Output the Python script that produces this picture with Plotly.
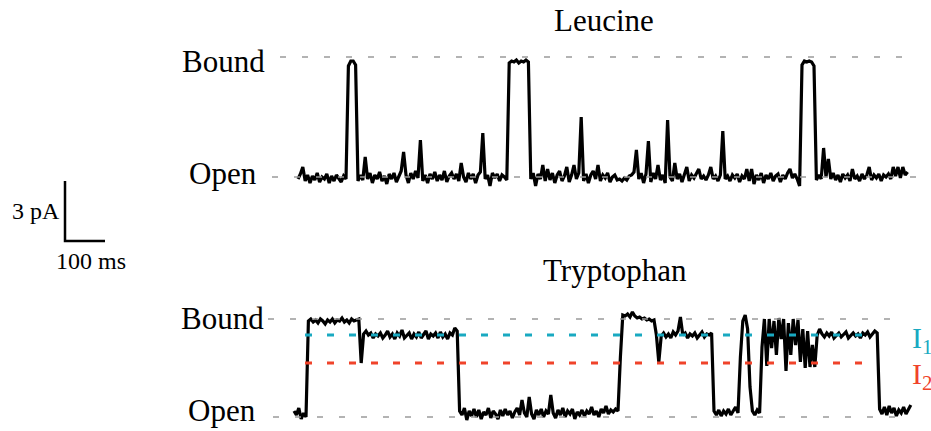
import plotly.graph_objects as go

# ---------------- data ----------------
DT_MS = 6.0

LEU_T0 = 0.0
LEUCINE_PA = [
    -0.1, 0.15, 0.5, -0.2, 0.1, -0.3, 0.05, -0.15, 0.2, -0.25, 0.0, -0.1, 0.15, -0.3, 0.05,
    -0.2, 0.1, -0.05, -0.25, 0.05, -0.1, 5.55, 5.8, 5.8, 5.6, -0.2, 0.1, -0.15, 1.0, -0.1,
    0.2, -0.3, 0.1, -0.1, 0.25, -0.2, 0.05, -0.35, 0.15, -0.1, 0.2, -0.25, 0.0, 0.3, 1.25,
    0.1, -0.3, 0.2, -0.1, 0.3, -0.05, 1.85, -0.2, 0.1, -0.3, 0.15, -0.1, 0.25, -0.2, 0.1,
    -0.15, 0.3, -0.25, 0.05, 0.2, -0.1, 0.15, -0.2, 0.7, 0.0, -0.25, 0.2, -0.1, 0.15, -0.3,
    0.1, 0.25, 2.2, -0.1, 0.1, -0.45, 0.2, -0.05, 0.15, -0.2, 0.1, 0.0, -0.15, 5.7, 5.8,
    5.75, 5.85, 5.7, 5.8, 5.75, 5.85, 5.75, -0.1, 0.2, -0.45, 0.15, -0.1, 0.6, -0.2, 0.4,
    -0.15, 0.2, -0.3, 0.1, 0.3, -0.2, 0.05, 0.5, -0.25, 0.1, 0.6, -0.1, 0.2, 3.0, -0.2,
    0.15, -0.3, 0.1, 0.3, -0.1, 0.6, -0.2, 0.1, -0.05, 0.2, -0.25, 0.0, 0.1, -0.15, -0.1,
    -0.2, -0.05, -0.15, 0.05, 0.1, 0.25, 1.35, -0.1, 0.2, -0.3, 0.15, 1.8, -0.25, 0.2, -0.1,
    0.6, -0.15, 0.1, -0.3, 2.85, 0.0, -0.2, 0.7, -0.1, 0.15, -0.25, 0.1, 0.5, -0.2, 0.1,
    -0.05, 0.15, 0.4, -0.1, 0.05, -0.15, 0.1, 0.5, -0.1, 0.05, -0.2, 0.1, 2.3, -0.1, 0.05,
    -0.2, 0.1, -0.05, 0.15, -0.25, 0.05, -0.1, 0.4, -0.2, 0.4, -0.35, 0.1, -0.15, 0.2, -0.3,
    0.1, -0.1, 0.2, -0.2, 0.05, 0.15, -0.25, 0.1, -0.1, 0.2, 0.4, -0.05, 0.15, -0.1, -0.45,
    5.6, 5.8, 5.75, 5.8, 5.75, 5.55, -0.15, 0.1, -0.1, 1.45, 0.0, 0.9, -0.1, 0.2, -0.15,
    0.1, -0.25, 0.15, -0.05, 0.1, -0.2, 0.4, -0.1, 0.05, -0.2, 0.15, -0.1, 0.1, 0.5, -0.15,
    0.1, -0.05, 0.15, -0.2, 0.1, 0.0, 0.15, -0.1, 0.5, 0.05, 0.5, -0.05, 0.5, 0.1, 0.25,
]

TRP_T0 = -10.0
TRYPTOPHAN_PA = [
    0.3, 0.1, 0.45, -0.1, 0.2, 0.0, 4.8, 4.9, 4.75, 4.85, 4.7, 4.9, 4.8, 4.65, 4.85,
    4.75, 4.9, 4.7, 4.85, 4.8, 4.95, 4.75, 4.85, 4.7, 4.9, 4.8, 4.85, 4.9, 2.7, 4.15,
    4.3, 4.1, 4.2, 3.95, 4.15, 4.05, 4.2, 3.95, 4.1, 4.3, 4.0, 4.15, 3.9, 4.2, 4.05,
    4.35, 3.95, 4.1, 4.2, 3.9, 4.15, 4.0, 4.25, 3.95, 4.1, 4.3, 3.9, 4.15, 4.05, 4.2,
    3.95, 4.25, 4.0, 4.15, 3.9, 4.2, 4.1, 4.45, 4.3, 0.3, 0.1, 0.45, -0.15, 0.3, 0.05,
    0.4, 0.0, 0.35, -0.1, 0.25, 0.1, 0.45, -0.05, 0.3, 0.15, -0.1, 0.35, 0.05, 0.4, 0.1,
    0.3, -0.05, 0.25, 0.45, 0.1, 0.85, 0.2, 0.0, 1.0, 0.15, -0.1, 0.35, 0.1, 0.4, 0.0,
    0.3, 0.15, 1.1, 0.2, -0.05, 0.35, 0.1, 0.45, 0.0, 0.3, 0.15, 0.4, -0.1, 0.25, 0.1,
    0.35, 0.05, 0.3, 0.15, 0.5, 0.1, 0.3, 0.0, 0.4, 0.2, 0.55, 0.15, 0.35, 0.25, 0.4,
    0.3, 3.0, 5.1, 5.05, 5.15, 5.0, 5.25, 5.05, 4.95, 5.0, 4.9, 4.95, 4.85, 4.9, 4.8,
    4.85, 4.1, 2.75, 4.05, 4.2, 4.0, 4.15, 3.95, 4.25, 4.1, 4.3, 5.0, 4.1, 4.2, 3.95,
    4.15, 4.05, 4.2, 3.95, 4.1, 4.25, 4.0, 4.15, 4.1, 4.2, 0.3, 0.1, 0.35, 0.05, 0.3,
    0.15, 0.4, 0.1, 0.3, 0.5, 0.2, 3.0, 4.8, 5.1, 4.4, 1.5, 0.3, 0.1, 0.35, 0.2,
    3.5, 4.9, 2.55, 4.9, 3.45, 4.8, 3.1, 4.95, 3.9, 4.9, 2.3, 4.7, 3.1, 4.9, 3.6,
    4.85, 2.75, 4.4, 2.45, 4.3, 2.5, 3.6, 2.5, 4.1, 4.4, 4.15, 4.0, 4.2, 4.05, 4.25,
    3.95, 4.1, 4.2, 4.0, 4.15, 4.25, 3.95, 4.1, 4.2, 4.05, 4.15, 3.95, 4.2, 4.1, 4.25,
    4.0, 4.15, 4.3, 4.2, 0.4, 0.15, 0.5, 0.1, 0.55, 0.2, 0.45, 0.05, 0.35, 0.2, 0.5,
    0.15, 0.4, 0.6,
]

LEU_LEVELS = {"Bound": 6.0, "Open": 0.0}
TRP_LEVELS = {"Bound": 4.9, "Open": 0.0}
TRP_SUBLEVELS = {"I<sub>1</sub>": 4.1, "I<sub>2</sub>": 2.7}

PANEL_TITLES = ["Leucine", "Tryptophan"]
SCALE_PA = 3
SCALE_MS = 100

# ---------------- styling / layout ----------------
FONT = "Times New Roman, Liberation Serif, serif"
W, H = 931, 431
PX_PER_MS = 0.4
PX_PER_PA = 20.0
X0_PX = 298          # pixel of t = 0
TOP_OPEN_PX = 177    # pixel of 0 pA in the top panel
BOT_OPEN_PX = 417    # pixel of 0 pA in the bottom panel

x_range = [-X0_PX / PX_PER_MS, (W - X0_PX) / PX_PER_MS]
y_top_range = [(TOP_OPEN_PX - H) / PX_PER_PA, TOP_OPEN_PX / PX_PER_PA]
y_bot_range = [(BOT_OPEN_PX - H) / PX_PER_PA, BOT_OPEN_PX / PX_PER_PA]

def px2t(px):
    return (px - X0_PX) / PX_PER_MS

def ypx_top(py):
    return (TOP_OPEN_PX - py) / PX_PER_PA

def ypx_bot(py):
    return (BOT_OPEN_PX - py) / PX_PER_PA

leu_t = [LEU_T0 + i * DT_MS for i in range(len(LEUCINE_PA))]
trp_t = [TRP_T0 + i * DT_MS for i in range(len(TRYPTOPHAN_PA))]

SUB_COLORS = ["#19a9c1", "#f0432a"]
GREY = "#9b9b9b"
TRACE_W = 3.2

fig = go.Figure()

shapes = []
# grey reference levels
for name, lv in LEU_LEVELS.items():
    x_start = px2t(280) if name == "Bound" else px2t(272)
    shapes.append(dict(type="line", xref="x", yref="y", x0=x_start, x1=px2t(916),
                       y0=lv, y1=lv, line=dict(color=GREY, width=1.5, dash="6px,16px")))
for name, lv in TRP_LEVELS.items():
    x_start = px2t(268) if name == "Bound" else px2t(273)
    shapes.append(dict(type="line", xref="x", yref="y2", x0=x_start, x1=px2t(904),
                       y0=lv, y1=lv, line=dict(color=GREY, width=1.5, dash="6px,16px")))
for (name, lv), col in zip(TRP_SUBLEVELS.items(), SUB_COLORS):
    shapes.append(dict(type="line", xref="x", yref="y2", x0=px2t(305), x1=px2t(876),
                       y0=lv, y1=lv, line=dict(color=col, width=3, dash="7px,15px")))

fig.add_trace(go.Scatter(x=leu_t, y=LEUCINE_PA, mode="lines", yaxis="y",
                         line=dict(color="black", width=TRACE_W), showlegend=False,
                         hoverinfo="skip"))
fig.add_trace(go.Scatter(x=trp_t, y=TRYPTOPHAN_PA, mode="lines", yaxis="y2",
                         line=dict(color="black", width=TRACE_W), showlegend=False,
                         hoverinfo="skip"))

# scale bar
sb_t = px2t(65)
sb_y = ypx_top(241)
fig.add_trace(go.Scatter(x=[sb_t, sb_t, sb_t + SCALE_MS],
                         y=[sb_y + SCALE_PA, sb_y, sb_y], mode="lines", yaxis="y",
                         line=dict(color="black", width=2.5), showlegend=False,
                         hoverinfo="skip"))

ann = []
big = dict(family=FONT, size=31, color="black")
small = dict(family=FONT, size=24, color="black")
ann.append(dict(text=PANEL_TITLES[0], x=px2t(604), y=ypx_top(20), xref="x", yref="y",
                showarrow=False, font=big, xanchor="center", yanchor="middle"))
ann.append(dict(text=PANEL_TITLES[1], x=px2t(615), y=ypx_bot(270), xref="x", yref="y2",
                showarrow=False, font=big, xanchor="center", yanchor="middle"))
for name, py in [("Bound", 61), ("Open", 173)]:
    ann.append(dict(text=name, x=px2t(223), y=ypx_top(py), xref="x", yref="y",
                    showarrow=False, font=big, xanchor="center", yanchor="middle"))
for name, py in [("Bound", 318), ("Open", 410)]:
    ann.append(dict(text=name, x=px2t(222), y=ypx_bot(py), xref="x", yref="y2",
                    showarrow=False, font=big, xanchor="center", yanchor="middle"))
ann.append(dict(text=f"{SCALE_PA} pA", x=px2t(36), y=ypx_top(211), xref="x", yref="y",
                showarrow=False, font=small, xanchor="center", yanchor="middle"))
ann.append(dict(text=f"{SCALE_MS} ms", x=px2t(91), y=ypx_top(261), xref="x", yref="y",
                showarrow=False, font=small, xanchor="center", yanchor="middle"))
for (name, lv), col, py in zip(TRP_SUBLEVELS.items(), SUB_COLORS, [340, 376]):
    ann.append(dict(text=name, x=px2t(910), y=ypx_bot(py), xref="x", yref="y2",
                    showarrow=False, font=dict(family=FONT, size=30, color=col),
                    xanchor="left", yanchor="middle"))

fig.update_layout(
    width=W, height=H,
    margin=dict(l=0, r=0, t=0, b=0),
    paper_bgcolor="white", plot_bgcolor="white",
    xaxis=dict(range=x_range, visible=False, domain=[0, 1]),
    yaxis=dict(range=y_top_range, visible=False, domain=[0, 1]),
    yaxis2=dict(range=y_bot_range, visible=False, overlaying="y", anchor="x"),
    shapes=shapes, annotations=ann,
)

fig.write_html("out.html")
